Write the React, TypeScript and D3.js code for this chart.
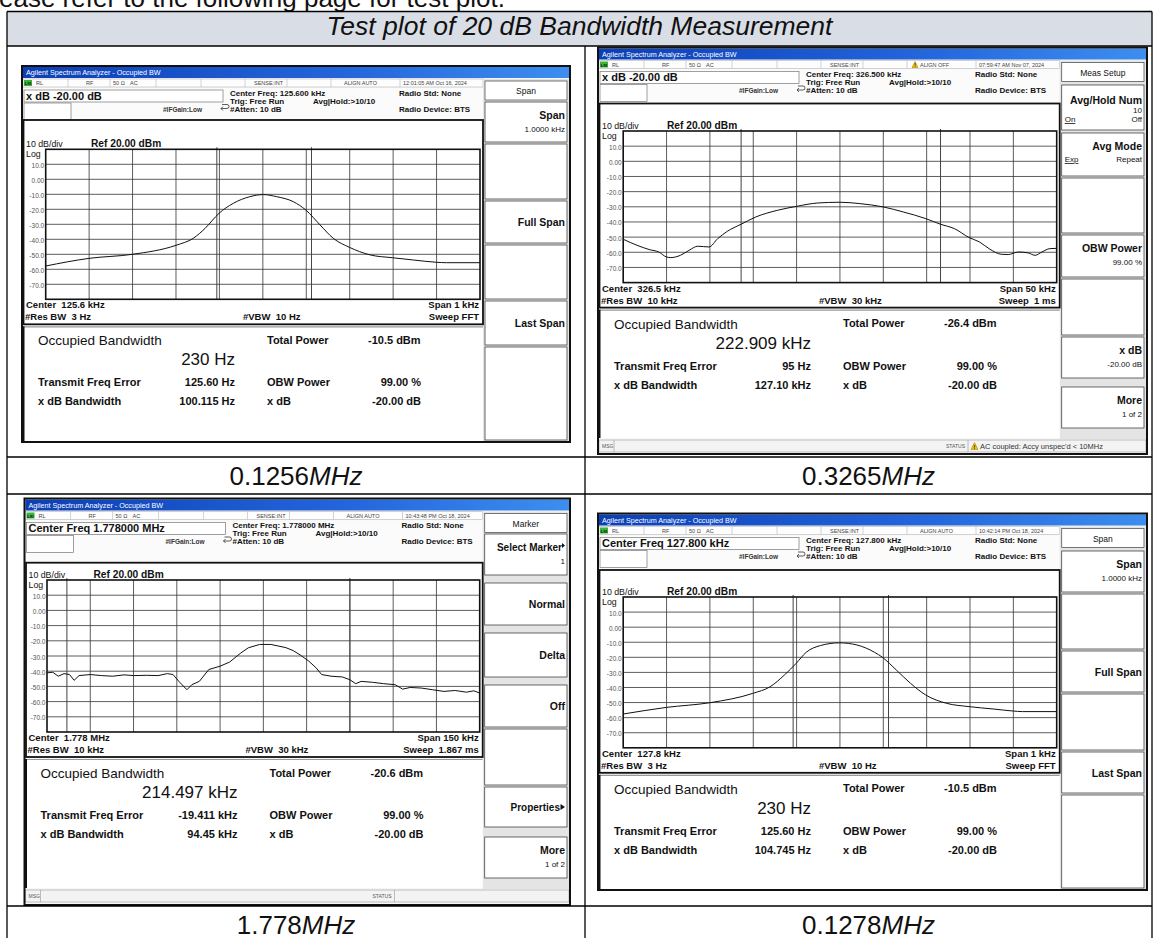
import React, { useEffect, useRef } from "react";
import * as d3 from "d3";

const leadText = "ease refer to the following page for test plot.";
const pageTitle = "Test plot of 20 dB Bandwidth Measurement";
const captionValues = ["0.1256", "0.3265", "1.778", "0.1278"];
const captionUnit = "MHz";

// graticule level ticks (dBm), ref 20 dBm, 10 dB/div
const levelTicks = [10, 0, -10, -20, -30, -40, -50, -60, -70];
const levelTickLabels = ["10.0", "0.00", "-10.0", "-20.0", "-30.0", "-40.0", "-50.0", "-60.0", "-70.0"];

// 125.6 kHz, span 1 kHz (offset from centre in Hz)
const tlOffsetHz = [-500, -400, -300, -200, -160, -133, -101, -68, -30, 1, 32, 70, 99, 132, 162, 199, 247, 299, 347, 399, 423, 500];
const tlLevelDbm = [-57.8, -52.7, -50, -44, -39.3, -32.7, -22.7, -16, -11.6, -10.2, -11.6, -14.9, -20.5, -30.5, -39.3, -45.3, -50.4, -52.3, -53.8, -55.3, -55.6, -55.6];
const tlMarkersHz = [-106, 112];

// 326.5 kHz, span 50 kHz (offset in kHz)
const trOffsetKHz = [-25, -23.4, -22, -20.9, -20, -19.5, -18.4, -17.4, -16.4, -15.1, -14.1, -13, -11.4, -9.7, -7.2, -5, -2.6, 0, 2.3, 5, 7.3, 9.9, 11.6, 13.2, 14.9, 16.1, 17.3, 18.6, 19.4, 20.6, 21.7, 22.5, 23.3, 24.2, 25];
const trLevelDbm = [-51.4, -55.4, -58.2, -59.8, -63.1, -63.5, -62, -58.7, -56, -56.5, -51, -46.2, -41.5, -36.7, -32.3, -29.7, -27.5, -27, -27.9, -30.1, -33.4, -37.8, -41.5, -44.4, -50.3, -53.2, -58, -61.3, -61.5, -59.8, -60.4, -62, -59.8, -57.6, -57.4];
const trMarkersKHz = [-11.4, 11.6];

// 1.778 MHz, span 150 kHz (offset in kHz)
const blOffsetKHz = [-75, -73, -71.1, -69.1, -67.2, -65.6, -63.9, -60, -56.1, -52.2, -48.3, -45, -40.4, -36.5, -33.3, -31.3, -29.3, -26.5, -24.8, -22.2, -18.9, -15, -11.7, -7.8, -5.2, -1.3, 2.6, 7.8, 10.4, 13, 15.7, 18.3, 20.2, 23.5, 27.4, 30, 32, 33.9, 37.8, 41.7, 45.7, 48.3, 50.9, 54.8, 58.7, 62.6, 66.5, 70.4, 73, 75];
const blLevelDbm = [-41.1, -40.7, -43.3, -41.6, -42.2, -46, -42.9, -42.2, -42.9, -43.3, -42.4, -42.9, -42.7, -42.9, -41.6, -42.2, -46.7, -52.2, -48.9, -46.7, -38.9, -36.7, -34, -28, -24.6, -22.4, -22.4, -24.5, -26.5, -29.6, -33.3, -37.8, -42.2, -43.3, -43.8, -45.6, -48.2, -46.7, -47.3, -48.2, -48.9, -51.8, -50.7, -51.1, -52.2, -53.3, -52.7, -53.8, -52.9, -54.4];
const blMarkersKHz = [-68.1, 30];

// 127.8 kHz, span 1 kHz (offset in Hz)
const brOffsetHz = [-500, -400, -300, -201, -161, -128, -101, -78, -45, -1, 39, 80, 98, 130, 163, 198, 246, 298, 355, 399, 421, 500];
const brLevelDbm = [-57.6, -53.2, -50.1, -43.9, -39.5, -31.7, -24, -16.7, -12.2, -10.4, -11.8, -16.7, -20, -28.4, -37.3, -45, -50.5, -52.7, -54.3, -55.6, -56, -56];
const brMarkersHz = [-108, 112];

const FONT = "'Liberation Sans', Arial, Helvetica, sans-serif";

const panels = [
  {
    x0: 22, y0: 66, x1: 570, y1: 442, dispTop: 120,
    gridL: 45.7, gridR: 480, gridT: 149.3, gridB: 299.3,
    halfSpan: 500, offsets: tlOffsetHz, levels: tlLevelDbm, markers: tlMarkersHz, smooth: true,
    time: "12:01:05 AM Oct 16, 2024", align: "ALIGN AUTO", warn: false,
    entry: "x dB -20.00 dB", cf: "Center Freq: 125.600 kHz",
    keyTitle: "Span",
    keys: [
      { y0: 102, y1: 142, label: "Span", sub: "1.0000 kHz" },
      { y0: 144, y1: 199 },
      { y0: 201, y1: 243, label: "Full Span" },
      { y0: 245, y1: 299 },
      { y0: 301, y1: 345, label: "Last Span" },
      { y0: 347, y1: 440 },
    ],
    center: "Center  125.6 kHz", span: "Span 1 kHz", rbw: "#Res BW  3 Hz", vbw: "#VBW  10 Hz", sweep: "Sweep FFT",
    obw: "230 Hz", tp: "-10.5 dBm", fe: "125.60 Hz", xdb: "100.115 Hz",
    msgY: null, status: "", infoBottom: 441,
  },
  {
    x0: 598, y0: 47.5, x1: 1147, y1: 454, dispTop: 103.5,
    gridL: 623.2, gridR: 1056.7, gridT: 131, gridB: 282.6,
    halfSpan: 25, offsets: trOffsetKHz, levels: trLevelDbm, markers: trMarkersKHz, smooth: true,
    time: "07:59:47 AM Nov 07, 2024", align: "ALIGN OFF", warn: true,
    entry: "x dB -20.00 dB", cf: "Center Freq: 326.500 kHz",
    keyTitle: "Meas Setup",
    keys: [
      { y0: 85, y1: 130, label: "Avg/Hold Num", sub: "10", left: "On", right: "Off" },
      { y0: 133, y1: 176, label: "Avg Mode", left: "Exp", right: "Repeat" },
      { y0: 178, y1: 233 },
      { y0: 235, y1: 277, label: "OBW Power", sub: "99.00 %" },
      { y0: 279, y1: 335 },
      { y0: 337, y1: 378, label: "x dB", sub: "-20.00 dB" },
      { y0: 387, y1: 428, label: "More", sub: "1 of 2" },
    ],
    center: "Center  326.5 kHz", span: "Span 50 kHz", rbw: "#Res BW  10 kHz", vbw: "#VBW  30 kHz", sweep: "Sweep  1 ms",
    obw: "222.909 kHz", tp: "-26.4 dBm", fe: "95 Hz", xdb: "127.10 kHz",
    msgY: 440, status: "AC coupled: Accy unspec'd < 10MHz", infoBottom: 438,
  },
  {
    x0: 24.5, y0: 498.5, x1: 570, y1: 905, dispTop: 562.7,
    gridL: 47, gridR: 479.7, gridT: 580, gridB: 732,
    halfSpan: 75, offsets: blOffsetKHz, levels: blLevelDbm, markers: blMarkersKHz, smooth: false,
    time: "10:43:48 PM Oct 18, 2024", align: "ALIGN AUTO", warn: false,
    entry: "Center Freq 1.778000 MHz", cf: "Center Freq: 1.778000 MHz",
    keyTitle: "Marker",
    keys: [
      { y0: 534, y1: 575, label: "Select Marker", sub: "1", arrow: true },
      { y0: 583, y1: 625, label: "Normal" },
      { y0: 633, y1: 677, label: "Delta" },
      { y0: 685, y1: 727, label: "Off" },
      { y0: 729, y1: 785 },
      { y0: 787, y1: 827, label: "Properties", arrow: true },
      { y0: 837, y1: 878, label: "More", sub: "1 of 2" },
    ],
    center: "Center  1.778 MHz", span: "Span 150 kHz", rbw: "#Res BW  10 kHz", vbw: "#VBW  30 kHz", sweep: "Sweep  1.867 ms",
    obw: "214.497 kHz", tp: "-20.6 dBm", fe: "-19.411 kHz", xdb: "94.45 kHz",
    msgY: 890, status: "", infoBottom: 888,
  },
  {
    x0: 598, y0: 513.5, x1: 1147, y1: 890, dispTop: 570,
    gridL: 623.2, gridR: 1056.7, gridT: 597, gridB: 747.8,
    halfSpan: 500, offsets: brOffsetHz, levels: brLevelDbm, markers: brMarkersHz, smooth: true,
    time: "10:42:14 PM Oct 18, 2024", align: "ALIGN AUTO", warn: false,
    entry: "Center Freq 127.800 kHz", cf: "Center Freq: 127.800 kHz",
    keyTitle: "Span",
    keys: [
      { y0: 551, y1: 592, label: "Span", sub: "1.0000 kHz" },
      { y0: 594, y1: 649 },
      { y0: 651, y1: 692, label: "Full Span" },
      { y0: 694, y1: 750 },
      { y0: 752, y1: 793, label: "Last Span" },
      { y0: 795, y1: 888 },
    ],
    center: "Center  127.8 kHz", span: "Span 1 kHz", rbw: "#Res BW  3 Hz", vbw: "#VBW  10 Hz", sweep: "Sweep FFT",
    obw: "230 Hz", tp: "-10.5 dBm", fe: "125.60 Hz", xdb: "104.745 Hz",
    msgY: null, status: "", infoBottom: 889,
  },
];

const addText = (g: any, x: number, y: number, s: string, size: number, o: any = {}) =>
  g
    .append("text")
    .attr("x", x)
    .attr("y", y)
    .attr("font-size", size)
    .attr("font-weight", o.bold ? "bold" : "normal")
    .attr("font-style", o.italic ? "italic" : "normal")
    .attr("text-anchor", o.anchor || "start")
    .attr("fill", o.fill || "#111")
    .attr("text-decoration", o.underline ? "underline" : "none")
    .style("white-space", "pre")
    .text(s);

const addRect = (g: any, x: number, y: number, w: number, h: number, fill: string, stroke = "none", sw = 1) =>
  g
    .append("rect")
    .attr("x", x)
    .attr("y", y)
    .attr("width", w)
    .attr("height", h)
    .attr("fill", fill)
    .attr("stroke", stroke)
    .attr("stroke-width", sw);

const addLine = (g: any, x1: number, y1: number, x2: number, y2: number, stroke: string, sw = 1) =>
  g
    .append("line")
    .attr("x1", x1)
    .attr("y1", y1)
    .attr("x2", x2)
    .attr("y2", y2)
    .attr("stroke", stroke)
    .attr("stroke-width", sw);

const warnIcon = (g: any, x: number, y: number, s: number) => {
  g.append("path")
    .attr("d", `M${x},${y + s} L${x + s / 2},${y} L${x + s},${y + s} Z`)
    .attr("fill", "#f5c400")
    .attr("stroke", "#9a7400")
    .attr("stroke-width", 0.5);
  addText(g, x + s / 2, y + s - 1, "!", s * 0.8, { bold: true, anchor: "middle" });
};

function drawPanel(svg: any, p: any) {
  const g = svg.append("g");
  const { x0, y0, x1, y1 } = p;
  const softL = p.gridR + 5;
  const softR = x1 - 3;

  const x = d3.scaleLinear().domain([-p.halfSpan, p.halfSpan]).range([p.gridL, p.gridR]);
  const y = d3.scaleLinear().domain([-80, 20]).range([p.gridB, p.gridT]);

  // window background + title bar
  addRect(g, x0, y0, x1 - x0, y1 - y0, "#f6f6f6");
  addRect(g, x0 + 1, y0 + 1, x1 - x0 - 2, 11, "url(#titleBar)");
  addText(g, x0 + 4, y0 + 9.3, "Agilent Spectrum Analyzer - Occupied BW", 7.2, { fill: "#fff" });

  // status row
  const sr = y0 + 13;
  addRect(g, x0 + 1, sr, p.gridR + 2 - x0, 8, "#fdfdfd", "#a8a8a8", 0.5);
  addRect(g, x0 + 2, sr + 1, 8, 6, "#39b539");
  addText(g, x0 + 6, sr + 6, "LXI", 4.2, { anchor: "middle", bold: true });
  [46, 88, 134, 179, 223, 265, 309, 378].forEach((d) => addLine(g, x0 + d, sr, x0 + d, sr + 8, "#a8a8a8", 0.5));
  addText(g, x0 + 14, sr + 6, "RL", 5.5, { fill: "#444" });
  addText(g, x0 + 64, sr + 6, "RF", 5.5, { fill: "#444" });
  addText(g, x0 + 91, sr + 6, "50 Ω", 5.5, { fill: "#444" });
  addText(g, x0 + 108, sr + 6, "AC", 5.5, { fill: "#444" });
  addText(g, x0 + 232, sr + 6, "SENSE:INT", 5.5, { fill: "#444" });
  if (p.warn) warnIcon(g, x0 + 314, sr + 1, 6);
  addText(g, x0 + 322, sr + 6, p.align, 5.5, { fill: "#444" });
  addText(g, x0 + 381, sr + 6, p.time, 5.5, { fill: "#444" });

  // entry area
  addRect(g, x0 + 1, y0 + 22, p.gridR + 2 - x0, p.dispTop - y0 - 22, "#fbfbfb");
  addRect(g, x0 + 2, y0 + 24, 199, 12, "#fff", "#777", 0.7);
  addText(g, x0 + 4, y0 + 33.5, p.entry, 11, { bold: true });
  addRect(g, x0 + 2, y0 + 37, 47, 17, "#fff", "#777", 0.7);
  g.append("path")
    .attr("d", `M${x0 + 200},${y0 + 38.5} h5 a2,2 0 0 1 0,4 h-6 m2,-2 l-2,2 l2,2`)
    .attr("fill", "none")
    .attr("stroke", "#333")
    .attr("stroke-width", 0.8);
  addText(g, x0 + 141, y0 + 45.5, "#IFGain:Low", 6.5, { bold: true, fill: "#333" });
  addText(g, x0 + 208, y0 + 29.5, p.cf, 8, { bold: true });
  addText(g, x0 + 208, y0 + 37.5, "Trig: Free Run", 8, { bold: true });
  addText(g, x0 + 208, y0 + 45.5, "#Atten: 10 dB", 8, { bold: true });
  addText(g, x0 + 291, y0 + 37.5, "Avg|Hold:>10/10", 8, { bold: true });
  addText(g, x0 + 377, y0 + 29.5, "Radio Std: None", 8, { bold: true });
  addText(g, x0 + 377, y0 + 45.5, "Radio Device: BTS", 8, { bold: true });

  // soft keys
  const keyBottom = p.msgY ? p.msgY - 1 : y1 - 1;
  addRect(g, softL - 2, y0 + 13, softR - softL + 4, keyBottom - y0 - 13, "#e4e4e4");
  addRect(g, softL, y0 + 15, softR - softL, 19, "#fff", "#555", 0.8);
  addText(g, (softL + softR) / 2, y0 + 28, p.keyTitle, 8.5, { anchor: "middle" });
  p.keys.forEach((k: any) => {
    addRect(g, softL, k.y0, softR - softL, k.y1 - k.y0, "#fff", "#444", 0.8);
    if (!k.label) return;
    const lx = softR - 2;
    let ly = (k.y0 + k.y1) / 2 + 4;
    if (k.sub && k.left) ly = k.y0 + 19;
    else if (k.sub || k.left) ly = k.y0 + 17;
    if (k.arrow && k.sub) {
      addText(g, lx - 3, ly, k.label, 10, { bold: true, anchor: "end" });
      g.append("path").attr("d", `M${lx - 3},${ly - 8} l3,2.5 l-3,2.5 Z`).attr("fill", "#111");
    } else if (k.arrow) {
      addText(g, lx - 5, ly, k.label, 10, { bold: true, anchor: "end" });
      g.append("path").attr("d", `M${lx - 4.5},${ly - 7} l4.5,3 l-4.5,3 Z`).attr("fill", "#111");
    } else {
      addText(g, lx, ly, k.label, 10.5, { bold: true, anchor: "end" });
    }
    if (k.sub) addText(g, lx, k.left ? k.y0 + 28 : k.y0 + 30, k.sub, 8, { anchor: "end" });
    if (k.left) {
      const by = k.sub ? k.y0 + 37 : k.y0 + 29;
      addText(g, softL + 3, by, k.left, 8, { underline: true });
      addText(g, lx, by, k.right, 8, { anchor: "end" });
    }
  });

  // display panel
  addRect(g, x0 + 1.5, p.dispTop, p.gridR + 1.5 - x0, p.gridB + 25 - p.dispTop, "#fff", "#111", 1.8);
  addText(g, x0 + 4, p.gridT - 2.5, "10 dB/div", 8.8);
  addText(g, x0 + 69, p.gridT - 2.5, "Ref 20.00 dBm", 10.2, { bold: true });
  addText(g, x0 + 4, p.gridT + 7.5, "Log", 8.8);

  // graticule
  const gr = g.append("g");
  levelTicks.forEach((v) => addLine(gr, p.gridL, y(v), p.gridR, y(v), "#333", 0.8));
  d3.range(1, 10)
    .map((i) => -p.halfSpan + (i * p.halfSpan) / 5)
    .forEach((f) => addLine(gr, x(f), p.gridT, x(f), p.gridB, "#333", 0.8));
  levelTicks.forEach((v, i) =>
    addText(gr, p.gridL - 1.5, y(v) + 3.5, levelTickLabels[i], 6.5, { anchor: "end", fill: "#555" })
  );
  p.markers.forEach((m: number) => addLine(gr, x(m), p.gridT - 2, x(m), p.gridB, "#444", 1));

  const trace = d3
    .line<number>()
    .x((d, i) => x(p.offsets[i]))
    .y((d) => y(d))
    .curve(p.smooth ? d3.curveMonotoneX : d3.curveLinear);
  gr.append("path")
    .attr("d", trace(p.levels))
    .attr("fill", "none")
    .attr("stroke", "#111")
    .attr("stroke-width", 1);

  addRect(gr, p.gridL, p.gridT, p.gridR - p.gridL, p.gridB - p.gridT, "none", "#111", 1.6);

  // bottom annotations
  addText(g, x0 + 4, p.gridB + 9, p.center, 9.5, { bold: true });
  addText(g, p.gridR - 1, p.gridB + 9, p.span, 9.5, { bold: true, anchor: "end" });
  addText(g, x0 + 3, p.gridB + 21, p.rbw, 9.5, { bold: true });
  addText(g, x0 + 221, p.gridB + 21, p.vbw, 9.5, { bold: true });
  addText(g, p.gridR - 1, p.gridB + 21, p.sweep, 9.5, { bold: true, anchor: "end" });

  // result panel
  const it = p.gridB + 27;
  addRect(g, x0 + 1.5, it, p.gridR + 1.5 - x0, p.infoBottom - it, "#fff");
  addLine(g, x0 + 1.5, it + 0.5, p.gridR + 3, it + 0.5, "#999", 1.2);
  addText(g, x0 + 16, it + 19, "Occupied Bandwidth", 13.5);
  addText(g, x0 + 245, it + 17.5, "Total Power", 11, { bold: true });
  addText(g, x0 + 346, it + 17.5, p.tp, 11, { bold: true });
  addText(g, x0 + 213, it + 39, p.obw, 17, { anchor: "end" });
  addText(g, x0 + 16, it + 60, "Transmit Freq Error", 11, { bold: true });
  addText(g, x0 + 213, it + 60, p.fe, 11, { bold: true, anchor: "end" });
  addText(g, x0 + 245, it + 60, "OBW Power", 11, { bold: true });
  addText(g, x0 + 399, it + 60, "99.00 %", 11, { bold: true, anchor: "end" });
  addText(g, x0 + 16, it + 79, "x dB Bandwidth", 11, { bold: true });
  addText(g, x0 + 213, it + 79, p.xdb, 11, { bold: true, anchor: "end" });
  addText(g, x0 + 245, it + 79, "x dB", 11, { bold: true });
  addText(g, x0 + 399, it + 79, "-20.00 dB", 11, { bold: true, anchor: "end" });
  addLine(g, x0 + 1.5, it, x0 + 1.5, p.infoBottom, "#111", 2);

  // message bar
  if (p.msgY) {
    addRect(g, x0 + 1, p.msgY, x1 - x0 - 2, 12, "#f3f3f3", "#999", 0.6);
    addText(g, x0 + 4, p.msgY + 8, "MSG", 5, { fill: "#555" });
    addLine(g, x0 + 16, p.msgY, x0 + 16, p.msgY + 12, "#999", 0.6);
    addText(g, x0 + 348, p.msgY + 8, "STATUS", 5, { fill: "#555" });
    addLine(g, x0 + 370, p.msgY, x0 + 370, p.msgY + 12, "#999", 0.6);
    if (p.status) {
      warnIcon(g, x0 + 373, p.msgY + 2.5, 7);
      addText(g, x0 + 382, p.msgY + 9, p.status, 7.5, { fill: "#333" });
    }
  }

  addRect(g, x0, y0, x1 - x0, y1 - y0, "none", "#111", 2);
}

const App = () => {
  const ref = useRef<SVGSVGElement | null>(null);

  useEffect(() => {
    const width = 1155;
    const height = 938;
    const tableL = 7;
    const tableR = 1152;
    const colX = 585;
    const rowLines = [11.5, 46, 457, 494, 906];

    const svg = d3
      .select(ref.current)
      .attr("width", width)
      .attr("height", height)
      .attr("font-family", FONT);

    svg.selectAll("*").remove();

    const grad = svg
      .append("defs")
      .append("linearGradient")
      .attr("id", "titleBar")
      .attr("x1", 0)
      .attr("x2", 1)
      .attr("y1", 0)
      .attr("y2", 0);
    grad.append("stop").attr("offset", 0).attr("stop-color", "#0c3fb6");
    grad.append("stop").attr("offset", 0.6).attr("stop-color", "#2466dc");
    grad.append("stop").attr("offset", 1).attr("stop-color", "#3d8ef0");

    addRect(svg, 0, 0, width, height, "#fff");

    // page text, cut at the top like the scanned page
    addText(svg, -1, 6.5, leadText, 26);

    // table
    addRect(svg, tableL, rowLines[0], tableR - tableL, rowLines[1] - rowLines[0], "#d9dee6");
    addText(svg, (tableL + tableR) / 2, 35, pageTitle, 26.5, { italic: true, anchor: "middle" });

    panels.forEach((p) => drawPanel(svg, p));

    rowLines.forEach((ly) => addLine(svg, tableL, ly, tableR, ly, "#000", 1.3));
    addLine(svg, tableL, rowLines[0], tableL, height + 5, "#000", 1.3);
    addLine(svg, tableR, rowLines[0], tableR, height + 5, "#000", 1.3);
    addLine(svg, colX, rowLines[1], colX, height + 5, "#000", 1.3);

    const capX = [(tableL + colX) / 2, (colX + tableR) / 2];
    const capY = [484.5, 933.5];
    captionValues.forEach((v, i) => {
      const t = svg
        .append("text")
        .attr("x", capX[i % 2])
        .attr("y", capY[Math.floor(i / 2)])
        .attr("font-size", 26)
        .attr("text-anchor", "middle")
        .attr("fill", "#111");
      t.append("tspan").text(v);
      t.append("tspan").attr("font-style", "italic").text(captionUnit);
    });
  }, []);

  return <svg ref={ref} style={{ position: "absolute", left: 0, top: 0 }}></svg>;
};

export default App;
